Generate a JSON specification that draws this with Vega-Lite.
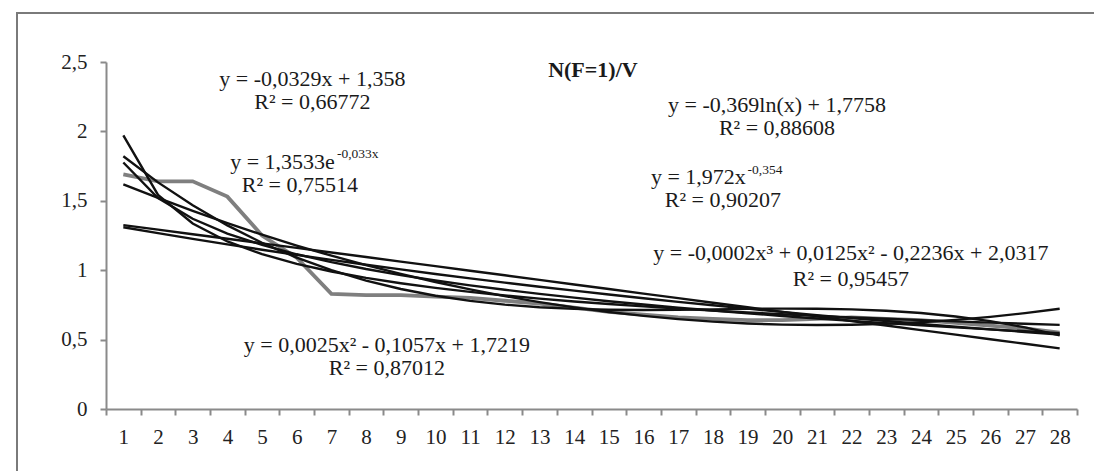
{
  "$schema": "https://vega.github.io/schema/vega-lite/v6.json",
  "width": 1082,
  "height": 463,
  "autosize": {"type": "none"},
  "padding": {"left": 17, "top": 13, "right": 0, "bottom": 0},
  "background": "white",
  "config": {
    "view": {"stroke": "#7a7a7a", "strokeWidth": 2},
    "font": "Liberation Serif",
    "axis": {
      "labelFont": "Liberation Serif",
      "labelFontSize": 21,
      "labelColor": "#222222",
      "domainColor": "#8a8a8a",
      "domainWidth": 2,
      "tickColor": "#8a8a8a",
      "tickWidth": 2,
      "tickSize": 6,
      "grid": false,
      "title": null
    }
  },
  "datasets": {
    "series": [
      {"x": 1, "data": 1.69, "lin": 1.3251, "exp": 1.3094, "log": 1.7758, "pow": 1.972, "p2": 1.6187, "p3": 1.8204},
      {"x": 2, "data": 1.64, "lin": 1.2922, "exp": 1.2669, "log": 1.52, "pow": 1.5429, "p2": 1.5205, "p3": 1.6327},
      {"x": 3, "data": 1.64, "lin": 1.2593, "exp": 1.2257, "log": 1.3704, "pow": 1.3366, "p2": 1.4273, "p3": 1.4672},
      {"x": 4, "data": 1.53, "lin": 1.2264, "exp": 1.186, "log": 1.2643, "pow": 1.2072, "p2": 1.3391, "p3": 1.3226},
      {"x": 5, "data": 1.25, "lin": 1.1935, "exp": 1.1475, "log": 1.1819, "pow": 1.1156, "p2": 1.2559, "p3": 1.1975},
      {"x": 6, "data": 1.09, "lin": 1.1606, "exp": 1.1102, "log": 1.1146, "pow": 1.0457, "p2": 1.1777, "p3": 1.0905},
      {"x": 7, "data": 0.83, "lin": 1.1277, "exp": 1.0742, "log": 1.0578, "pow": 0.9903, "p2": 1.1045, "p3": 1.0002},
      {"x": 8, "data": 0.82, "lin": 1.0948, "exp": 1.0393, "log": 1.0085, "pow": 0.9446, "p2": 1.0363, "p3": 0.9253},
      {"x": 9, "data": 0.82, "lin": 1.0619, "exp": 1.0056, "log": 0.965, "pow": 0.9059, "p2": 0.9731, "p3": 0.8644},
      {"x": 10, "data": 0.81, "lin": 1.029, "exp": 0.9729, "log": 0.9261, "pow": 0.8728, "p2": 0.9149, "p3": 0.8161},
      {"x": 11, "data": 0.8, "lin": 0.9961, "exp": 0.9413, "log": 0.891, "pow": 0.8438, "p2": 0.8617, "p3": 0.779},
      {"x": 12, "data": 0.78, "lin": 0.9632, "exp": 0.9108, "log": 0.8589, "pow": 0.8182, "p2": 0.8135, "p3": 0.7518},
      {"x": 13, "data": 0.76, "lin": 0.9303, "exp": 0.8812, "log": 0.8294, "pow": 0.7953, "p2": 0.7703, "p3": 0.733},
      {"x": 14, "data": 0.73, "lin": 0.8974, "exp": 0.8526, "log": 0.802, "pow": 0.7748, "p2": 0.7321, "p3": 0.7213},
      {"x": 15, "data": 0.7, "lin": 0.8645, "exp": 0.8249, "log": 0.7765, "pow": 0.7561, "p2": 0.6989, "p3": 0.7153},
      {"x": 16, "data": 0.68, "lin": 0.8316, "exp": 0.7982, "log": 0.7527, "pow": 0.739, "p2": 0.6707, "p3": 0.7137},
      {"x": 17, "data": 0.66, "lin": 0.7987, "exp": 0.7722, "log": 0.7303, "pow": 0.7233, "p2": 0.6475, "p3": 0.715},
      {"x": 18, "data": 0.65, "lin": 0.7658, "exp": 0.7472, "log": 0.7092, "pow": 0.7088, "p2": 0.6293, "p3": 0.7179},
      {"x": 19, "data": 0.64, "lin": 0.7329, "exp": 0.7229, "log": 0.6893, "pow": 0.6954, "p2": 0.6161, "p3": 0.721},
      {"x": 20, "data": 0.64, "lin": 0.7, "exp": 0.6995, "log": 0.6704, "pow": 0.6829, "p2": 0.6079, "p3": 0.7229},
      {"x": 21, "data": 0.65, "lin": 0.6671, "exp": 0.6767, "log": 0.6524, "pow": 0.6712, "p2": 0.6047, "p3": 0.7223},
      {"x": 22, "data": 0.66, "lin": 0.6342, "exp": 0.6548, "log": 0.6352, "pow": 0.6603, "p2": 0.6065, "p3": 0.7177},
      {"x": 23, "data": 0.65, "lin": 0.6013, "exp": 0.6335, "log": 0.6188, "pow": 0.65, "p2": 0.6133, "p3": 0.7078},
      {"x": 24, "data": 0.64, "lin": 0.5684, "exp": 0.613, "log": 0.6031, "pow": 0.6403, "p2": 0.6251, "p3": 0.6913},
      {"x": 25, "data": 0.62, "lin": 0.5355, "exp": 0.5931, "log": 0.588, "pow": 0.6311, "p2": 0.6419, "p3": 0.6667},
      {"x": 26, "data": 0.6, "lin": 0.5026, "exp": 0.5738, "log": 0.5736, "pow": 0.6224, "p2": 0.6637, "p3": 0.6327},
      {"x": 27, "data": 0.58, "lin": 0.4697, "exp": 0.5552, "log": 0.5597, "pow": 0.6141, "p2": 0.6905, "p3": 0.5879},
      {"x": 28, "data": 0.55, "lin": 0.4368, "exp": 0.5372, "log": 0.5462, "pow": 0.6062, "p2": 0.7223, "p3": 0.5309}
    ],
    "notes": [
      {"t": "N(F=1)/V", "k": "title", "ax": 14.54, "ay": 2.442},
      {"t": "y = -0,0329x + 1,358", "k": "eq", "ax": 6.45, "ay": 2.38},
      {"t": "R² = 0,66772", "k": "eq", "ax": 6.45, "ay": 2.212},
      {"t": "y = 1,3533e", "k": "eqr", "ax": 7.1, "ay": 1.783},
      {"t": "-0,033x", "k": "sup", "ax": 7.16, "ay": 1.835},
      {"t": "R² = 0,75514", "k": "eq", "ax": 6.09, "ay": 1.614},
      {"t": "y = -0,369ln(x) + 1,7758", "k": "eq", "ax": 19.85, "ay": 2.19},
      {"t": "R² = 0,88608", "k": "eq", "ax": 19.85, "ay": 2.022},
      {"t": "y = 1,972x", "k": "eqr", "ax": 18.95, "ay": 1.671},
      {"t": "-0,354", "k": "sup", "ax": 19.0, "ay": 1.72},
      {"t": "R² = 0,90207", "k": "eq", "ax": 18.29, "ay": 1.503},
      {"t": "y = -0,0002x³ + 0,0125x² - 0,2236x + 2,0317", "k": "eq", "ax": 21.98, "ay": 1.124},
      {"t": "R² = 0,95457", "k": "eq", "ax": 21.98, "ay": 0.94},
      {"t": "y = 0,0025x² - 0,1057x + 1,7219", "k": "eq", "ax": 8.6, "ay": 0.462},
      {"t": "R² = 0,87012", "k": "eq", "ax": 8.6, "ay": 0.294}
    ]
  },
  "layer": [
    {
      "data": {"name": "series"},
      "mark": {"type": "line", "color": "#7f7f7f", "strokeWidth": 3.8},
      "encoding": {
        "x": {
          "field": "x", "type": "ordinal",
          "scale": {"type": "band", "range": [89, 1060], "paddingInner": 0, "paddingOuter": 0},
          "axis": {"orient": "bottom", "offset": -67, "tickBand": "extent", "labelAngle": 0, "labelPadding": 11, "title": null}
        },
        "y": {
          "field": "data", "type": "quantitative",
          "scale": {"domain": [0, 2.5], "range": [396, 49], "nice": false, "zero": false},
          "axis": {"orient": "left", "offset": -89, "values": [0, 0.5, 1, 1.5, 2, 2.5], "format": "~g", "labelExpr": "replace(datum.label, '.', ',')", "labelPadding": 13, "title": null}
        }
      }
    },
    {
      "data": {"name": "series"},
      "transform": [{"fold": ["lin", "exp", "log", "pow", "p2", "p3"], "as": ["trend", "val"]}],
      "mark": {"type": "line", "color": "#111111", "strokeWidth": 2.4},
      "encoding": {
        "x": {
          "field": "x", "type": "ordinal",
          "scale": {"type": "band", "range": [89, 1060], "paddingInner": 0, "paddingOuter": 0},
          "axis": null
        },
        "y": {"field": "val", "type": "quantitative", "title": null},
        "detail": {"field": "trend"}
      }
    },
    {
      "data": {"name": "notes"},
      "transform": [{"filter": "datum.k == 'eq'"}],
      "mark": {"type": "text", "font": "Liberation Serif", "fontSize": 22, "align": "center", "baseline": "middle", "color": "#1a1a1a"},
      "encoding": {
        "x": {"field": "ax", "type": "quantitative", "scale": {"domain": [0.5, 28.5], "range": [89, 1060], "nice": false, "zero": false}, "axis": null},
        "y": {"field": "ay", "type": "quantitative", "title": null},
        "text": {"field": "t"}
      }
    },
    {
      "data": {"name": "notes"},
      "transform": [{"filter": "datum.k == 'eqr'"}],
      "mark": {"type": "text", "font": "Liberation Serif", "fontSize": 22, "align": "right", "baseline": "middle", "color": "#1a1a1a"},
      "encoding": {
        "x": {"field": "ax", "type": "quantitative", "scale": {"domain": [0.5, 28.5], "range": [89, 1060], "nice": false, "zero": false}, "axis": null},
        "y": {"field": "ay", "type": "quantitative", "title": null},
        "text": {"field": "t"}
      }
    },
    {
      "data": {"name": "notes"},
      "transform": [{"filter": "datum.k == 'sup'"}],
      "mark": {"type": "text", "font": "Liberation Serif", "fontSize": 13.5, "align": "left", "baseline": "middle", "color": "#1a1a1a"},
      "encoding": {
        "x": {"field": "ax", "type": "quantitative", "scale": {"domain": [0.5, 28.5], "range": [89, 1060], "nice": false, "zero": false}, "axis": null},
        "y": {"field": "ay", "type": "quantitative", "title": null},
        "text": {"field": "t"}
      }
    },
    {
      "data": {"name": "notes"},
      "transform": [{"filter": "datum.k == 'title'"}],
      "mark": {"type": "text", "font": "Liberation Serif", "fontSize": 22, "fontWeight": "bold", "align": "center", "baseline": "middle", "color": "#1a1a1a"},
      "encoding": {
        "x": {"field": "ax", "type": "quantitative", "scale": {"domain": [0.5, 28.5], "range": [89, 1060], "nice": false, "zero": false}, "axis": null},
        "y": {"field": "ay", "type": "quantitative", "title": null},
        "text": {"field": "t"}
      }
    }
  ],
  "resolve": {"scale": {"x": "independent"}}
}
